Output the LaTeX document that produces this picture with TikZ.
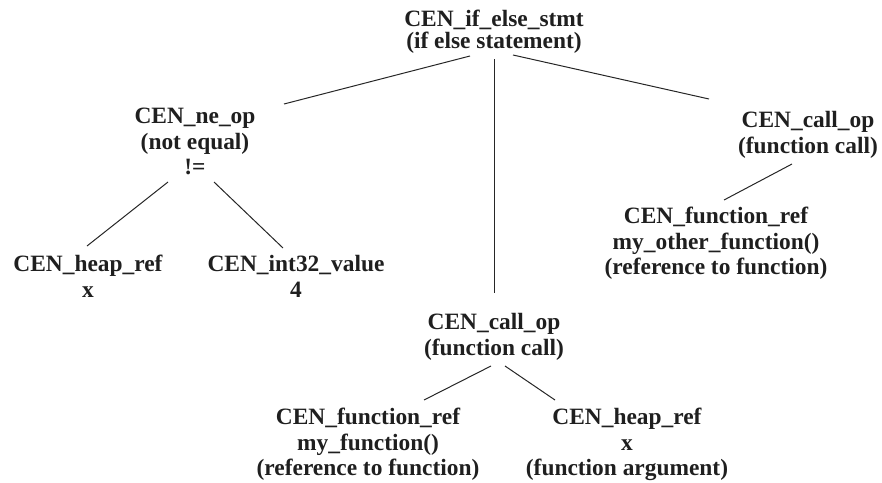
\documentclass[tikz,border=0pt]{standalone}
\usepackage{fontspec}
\setmainfont{Liberation Serif}
\usetikzlibrary{calc}

\begin{document}
\begin{tikzpicture}[
  x=0.5pt, y=-0.5pt,
  ast/.style={anchor=north, inner sep=0pt, align=center, text=black!88,
    font=\bfseries\fontsize{11.7}{12.75}\selectfont},
  top/.style={ast, font=\bfseries\fontsize{11.7}{11}\selectfont},
  edge/.style={line width=0.5pt, draw=black!85}
]
\useasboundingbox (0,0) rectangle (882,482);

% nodes of the tree
\node[top] (root) at (494,10) {CEN\_if\_else\_stmt\\(if else statement)};
\node[ast] (neop) at (195,108) {CEN\_ne\_op\\(not equal)\\!=};
\node[ast] (callR) at (808,111) {CEN\_call\_op\\(function call)};
\node[ast] (refR) at (716,207) {CEN\_function\_ref\\my\_other\_function()\\(reference to function)};
\node[ast] (heapL) at (88,255) {CEN\_heap\_ref\\x};
\node[ast] (intv) at (296,255) {CEN\_int32\_value\\4};
\node[ast] (callM) at (494,313) {CEN\_call\_op\\(function call)};
\node[ast] (refM) at (368,408) {CEN\_function\_ref\\my\_function()\\(reference to function)};
\node[ast] (heapM) at (627,408) {CEN\_heap\_ref\\x\\(function argument)};

% connectors
\draw[edge] ($(root.north)+(-24,46)$) -- ($(neop.north)+(89,-4)$);
\draw[edge] ($(root.north)+(0,49)$) -- ($(callM.north)+(0,-20)$);
\draw[edge] ($(root.north)+(19,45)$) -- ($(callR.north)+(-99,-12)$);
\draw[edge] ($(callR.north)+(-16,53)$) -- ($(refR.north)+(8,-7)$);
\draw[edge] ($(neop.north)+(-27,74)$) -- ($(heapL.north)+(-1,-9)$);
\draw[edge] ($(neop.north)+(19,74)$) -- ($(intv.north)+(-13,-7)$);
\draw[edge] ($(callM.north)+(-3,53)$) -- ($(refM.north)+(56,-8)$);
\draw[edge] ($(callM.north)+(11,53)$) -- ($(heapM.north)+(-72,-8)$);

\end{tikzpicture}
\end{document}
